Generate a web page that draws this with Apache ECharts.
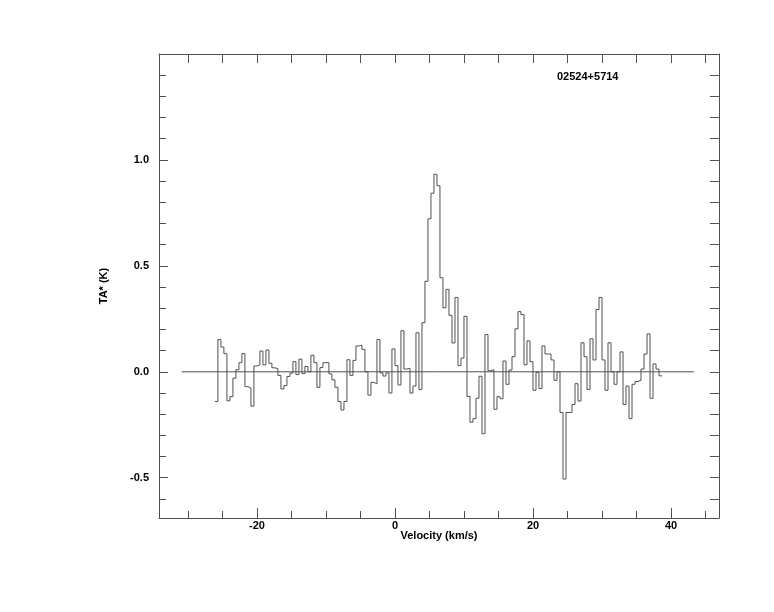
<!DOCTYPE html>
<html>
<head>
<meta charset="utf-8">
<script src="https://cdn.jsdelivr.net/npm/echarts@6/dist/echarts.min.js"></script>
<style>
html,body{margin:0;padding:0;background:#ffffff;}
#chart{width:774px;height:612px;}
</style>
</head>
<body>
<div id="chart"></div>
<script>
// ---- data ----
const sourceName = '02524+5714';
const xAxisTitle = 'Velocity (km/s)';
const yAxisTitle = 'TA* (K)';
const xTickLabels = [-20, 0, 20, 40];
const yTickLabels = [-0.5, 0.0, 0.5, 1.0];
const velocityStart = -26.10;   // left edge of first channel (km/s)
const channelWidth = 0.4348;    // channel width (km/s)
const antennaTemp = [
  -0.14, 0.152, 0.117, 0.086, -0.137, -0.117, -0.03, 0.01, 0.043, 0.086,
  -0.07, -0.076, -0.162, 0.027, 0.033, 0.098, 0.033, 0.103, 0.04, 0.019,
  0.015, -0.017, -0.081, -0.065, -0.022, -0.006, 0.048, -0.013, 0.06, -0.008,
  0.025, 0.0, 0.078, 0.043, -0.073, 0.02, 0.043, 0.043, -0.01, -0.038,
  -0.073, -0.14, -0.18, -0.14, 0.057, -0.017, 0.054, 0.122, 0.125, 0.106,
  0.0, -0.11, -0.05, -0.057, 0.152, -0.005, -0.02, -0.005, -0.10, 0.108,
  0.029, -0.062, 0.194, 0.013, 0.017, -0.10, -0.067, 0.184, -0.083, 0.232,
  0.427, 0.722, 0.843, 0.932, 0.878, 0.444, 0.302, 0.389, 0.267, 0.136,
  0.351, 0.029, 0.065, 0.262, -0.116, -0.238, -0.221, -0.125, -0.021, -0.292,
  0.176, 0.005, 0.01, -0.177, -0.117, -0.127, 0.051, -0.059, 0.008, 0.071,
  0.203, 0.284, 0.27, 0.033, 0.146, 0.048, -0.087, -0.003, -0.079, 0.122,
  0.084, 0.084, 0.056, -0.04, 0.0, -0.192, -0.506, -0.192, -0.192, -0.154,
  -0.056, -0.138, 0.137, 0.071, -0.083, 0.156, 0.056, 0.294, 0.351, 0.056,
  -0.087, 0.137, 0.0, -0.059, 0.0, 0.094, -0.154, -0.067, -0.221, -0.059,
  -0.046, -0.04, 0.013, 0.084, 0.179, -0.125, 0.037, 0.013, -0.019
];
const baselineVelocity = [-30.9, 43.3];
const baselineLevel = [0, 0];

// ---- build series data ----
const spectrumData = antennaTemp.map((t, i) => [velocityStart + i * channelWidth, t]);
spectrumData.push([velocityStart + antennaTemp.length * channelWidth, antennaTemp[antennaTemp.length - 1]]);
const baselineData = baselineVelocity.map((v, i) => [v, baselineLevel[i]]);

const lineColor = '#505050';
const font = { fontFamily: 'Liberation Sans', fontWeight: 'bold', fontSize: 11, color: '#000000' };
const xMin = -34.2, xMax = 46.94, yMin = -0.69, yMax = 1.5;

const chart = echarts.init(document.getElementById('chart'), null, { renderer: 'canvas' });
chart.setOption({
  animation: false,
  backgroundColor: '#ffffff',
  grid: { left: 159, top: 54, width: 560, height: 464, containLabel: false },
  xAxis: [
    {
      type: 'value', position: 'bottom', min: xMin, max: xMax,
      minInterval: 20, maxInterval: 20, splitNumber: 4,
      axisLine: { show: true, onZero: false, lineStyle: { color: lineColor, width: 1 } },
      axisTick: { show: true, inside: true, length: 10, lineStyle: { color: lineColor, width: 1 } },
      minorTick: { show: true, splitNumber: 4, length: 7, lineStyle: { color: lineColor, width: 1 } },
      splitLine: { show: false }, minorSplitLine: { show: false },
      axisLabel: {
        show: true, margin: 2, showMinLabel: false, showMaxLabel: false, ...font,
        formatter: v => xTickLabels.some(t => Math.abs(t - v) < 1e-6) ? String(Math.round(v)) : ''
      },
      name: xAxisTitle, nameLocation: 'middle', nameGap: 12, nameMoveOverlap: false,
      nameTextStyle: { ...font }
    },
    {
      type: 'value', position: 'top', min: xMin, max: xMax,
      minInterval: 5, maxInterval: 5, splitNumber: 16,
      axisLine: { show: true, onZero: false, lineStyle: { color: lineColor, width: 1 } },
      axisTick: { show: true, inside: true, length: 9, lineStyle: { color: lineColor, width: 1 } },
      axisLabel: { show: false }, splitLine: { show: false }
    }
  ],
  yAxis: [
    {
      type: 'value', position: 'left', min: yMin, max: yMax,
      minInterval: 0.5, maxInterval: 0.5, splitNumber: 4,
      axisLine: { show: true, onZero: false, lineStyle: { color: lineColor, width: 1 } },
      axisTick: { show: true, inside: true, length: 9, lineStyle: { color: lineColor, width: 1 } },
      minorTick: { show: true, splitNumber: 5, length: 7, lineStyle: { color: lineColor, width: 1 } },
      splitLine: { show: false }, minorSplitLine: { show: false },
      axisLabel: {
        show: true, margin: 10, showMinLabel: false, showMaxLabel: false, ...font,
        formatter: v => yTickLabels.some(t => Math.abs(t - v) < 1e-6) ? v.toFixed(1) : ''
      },
      name: yAxisTitle, nameLocation: 'middle', nameGap: 50, nameRotate: 90, nameMoveOverlap: false,
      nameTextStyle: { ...font }
    },
    {
      type: 'value', position: 'right', min: yMin, max: yMax,
      minInterval: 0.1, maxInterval: 0.1, splitNumber: 22,
      axisLine: { show: true, onZero: false, lineStyle: { color: lineColor, width: 1 } },
      axisTick: { show: true, inside: true, length: 9, lineStyle: { color: lineColor, width: 1 } },
      axisLabel: { show: false }, splitLine: { show: false }
    }
  ],
  graphic: [
    { type: 'text', left: 557, top: 71, silent: true,
      style: { text: sourceName, font: 'bold 11px "Liberation Sans"', fill: '#000000' } }
  ],
  series: [
    {
      type: 'line', xAxisIndex: 0, yAxisIndex: 0, step: 'end',
      data: spectrumData, symbol: 'none', silent: true,
      lineStyle: { color: lineColor, width: 1 }
    },
    {
      type: 'line', xAxisIndex: 0, yAxisIndex: 0,
      data: baselineData, symbol: 'none', silent: true,
      lineStyle: { color: lineColor, width: 1 }
    }
  ]
});
</script>
</body>
</html>
